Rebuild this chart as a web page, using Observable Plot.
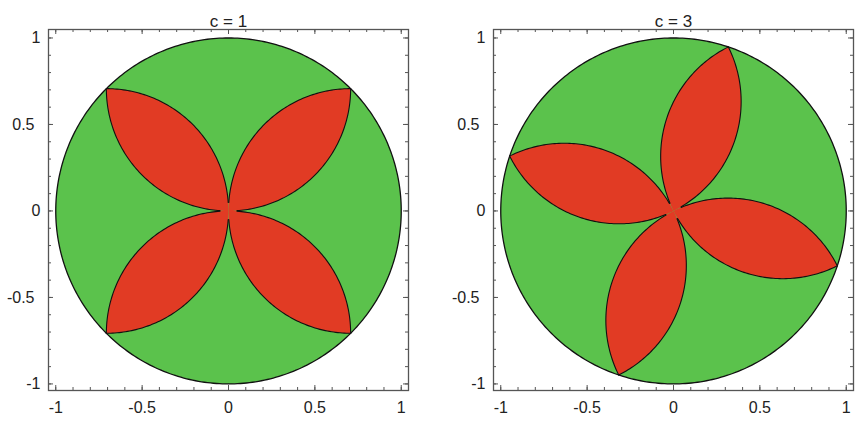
<!DOCTYPE html>
<html><head><meta charset="utf-8">
<script src="https://cdn.jsdelivr.net/npm/d3@7"></script>
<script src="https://cdn.jsdelivr.net/npm/@observablehq/plot@0.6"></script>
<style>
body{margin:0;background:#fff;}
#row{display:flex;width:859px;height:429px;}
#row svg{font-family:"Liberation Sans",Arial,sans-serif;display:block;}
</style></head><body><div id="row"></div>
<script>
// ---- chart values ----
const panelTitles = ["c = 1", "c = 3"];
// angle (degrees) of each petal tip on the unit circle
const tipAnglesC1 = [45, 135, 225, 315];
const tipAnglesC3 = [71.5, 161.5, 251.5, 341.5];
const diskRadius = 1;
const petalArcRadius = 0.7071; // radius of the two arcs bounding each petal
const tickValues = [-1, -0.5, 0, 0.5, 1];
const integerTicks = [-1, 0, 1];
const halfTicks = [-0.5, 0.5];
const minorTickValues = [-1, -0.9, -0.8, -0.7, -0.6, -0.5, -0.4, -0.3, -0.2, -0.1, 0,
  0.1, 0.2, 0.3, 0.4, 0.5, 0.6, 0.7, 0.8, 0.9, 1];
const diskColor = "#5bc24c";
const petalColor = "#e13b24";

// ---- geometry (shapes built from the values above) ----
const rad = d => d * Math.PI / 180;
function diskPoints() {
  return d3.range(0, 361, 1).map(t => ({x: diskRadius * Math.cos(rad(t)), y: diskRadius * Math.sin(rad(t))}));
}
function arc(cx, cy, r, a0, a1, id) {
  const n = 90, out = [];
  for (let i = 0; i <= n; i++) {
    const t = rad(a0 + (a1 - a0) * i / n);
    out.push({x: cx + r * Math.cos(t), y: cy + r * Math.sin(t), id});
  }
  return out;
}
function petal(a, k) {
  const r = petalArcRadius;
  const c1 = [r * Math.cos(rad(a - 45)), r * Math.sin(rad(a - 45))];
  const c2 = [r * Math.cos(rad(a + 45)), r * Math.sin(rad(a + 45))];
  const e1 = arc(c1[0], c1[1], r, a + 135, a + 45, `p${k}a`);
  const e2 = arc(c2[0], c2[1], r, a - 45, a - 135, `p${k}b`);
  return {fill: [...e1, ...e2].map(p => ({...p, id: `p${k}`})), edges: [e1, e2]};
}

function panel(title, tips, opts) {
  const petals = tips.map((a, k) => petal(a, k));
  const fills = petals.flatMap(p => p.fill);
  const edges = petals.flatMap(p => p.edges.flat()).filter(p => Math.hypot(p.x, p.y) > 0.045);
  const W = opts.width, H = 429;
  const mt = 29, mb = 39;
  const fw = W - opts.ml - opts.mr, fh = H - mt - mb;
  const tickStroke = "#555";
  return Plot.plot({
    width: W, height: H,
    marginLeft: opts.ml, marginRight: opts.mr, marginTop: mt, marginBottom: mb,
    x: {domain: [-1.042, 1.042], label: null},
    y: {domain: [-1.038, 1.049], label: null},
    style: {fontSize: "16px", color: "#222", background: "white"},
    marks: [
      Plot.line(diskPoints(), {x: "x", y: "y", fill: diskColor, stroke: "#111", strokeWidth: 1.3}),
      Plot.line(fills, {x: "x", y: "y", z: "id", fill: petalColor, stroke: "none"}),
      Plot.line(edges, {x: "x", y: "y", z: "id", stroke: "#111", strokeWidth: 1.1}),
      Plot.frame({stroke: tickStroke, strokeWidth: 1.3}),
      Plot.ruleX(minorTickValues, {x: d => d, insetTop: fh - 3, stroke: tickStroke}),
      Plot.ruleX(minorTickValues, {x: d => d, insetBottom: fh - 3, stroke: tickStroke}),
      Plot.ruleY(minorTickValues, {y: d => d, insetLeft: fw - 3, stroke: tickStroke}),
      Plot.ruleY(minorTickValues, {y: d => d, insetRight: fw - 3, stroke: tickStroke}),
      Plot.ruleX(tickValues, {x: d => d, insetTop: fh - 5, stroke: tickStroke}),
      Plot.ruleX(tickValues, {x: d => d, insetBottom: fh - 5, stroke: tickStroke}),
      Plot.ruleY(tickValues, {y: d => d, insetLeft: fw - 5, stroke: tickStroke}),
      Plot.ruleY(tickValues, {y: d => d, insetRight: fw - 5, stroke: tickStroke}),
      Plot.axisX({ticks: tickValues, tickSize: 0, tickPadding: 11, tickFormat: d => String(d), label: null, fontSize: 16}),
      Plot.axisY({ticks: integerTicks, tickSize: 0, tickPadding: 8, tickFormat: d => String(d), label: null, fontSize: 16}),
      Plot.axisY({ticks: halfTicks, tickSize: 0, tickPadding: 14, tickFormat: d => String(d), label: null, fontSize: 16}),
      Plot.text([title], {text: d => d, frameAnchor: "top", dy: -15, fontSize: 17, fill: "#222"})
    ]
  });
}

const row = document.getElementById("row");
row.append(panel(panelTitles[0], tipAnglesC1, {width: 430, ml: 48, mr: 22}));
row.append(panel(panelTitles[1], tipAnglesC3, {width: 429, ml: 63, mr: 6}));
</script></body></html>
